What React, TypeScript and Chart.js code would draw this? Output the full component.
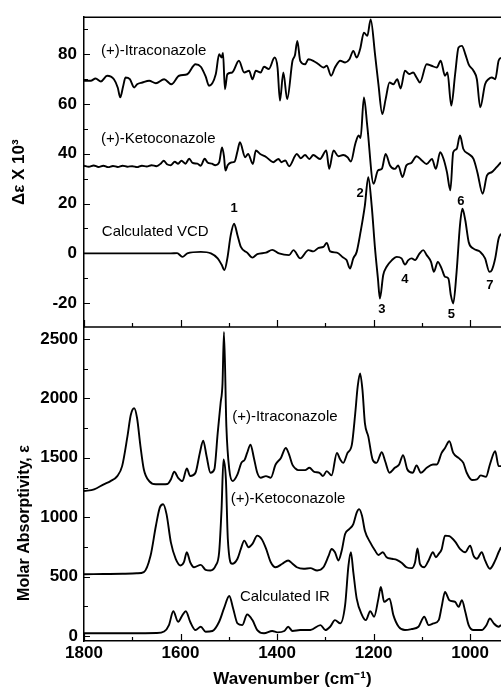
import React, { useEffect, useRef } from 'react';
import { Chart, registerables } from 'chart.js';

Chart.register(...registerables);

// ---------- axis ranges and tick labels ----------
const X_MIN = 936;
const X_MAX = 1800;
const VCD_MIN = -29.6;
const VCD_MAX = 94.8;
const IR_MIN = -42;
const IR_MAX = 2600;

const xTickValues = [1800, 1600, 1400, 1200, 1000];
const vcdTickValues = [-20, 0, 20, 40, 60, 80];
const irTickValues = [0, 500, 1000, 1500, 2000, 2500];
const xMinorTicks = [1800, 1700, 1600, 1500, 1400, 1300, 1200, 1100, 1000];
const vcdMinorTicks = [-20, -10, 0, 10, 20, 30, 40, 50, 60, 70, 80, 90];
const irMinorTicks = [0, 250, 500, 750, 1000, 1250, 1500, 1750, 2000, 2250, 2500];

// ---------- VCD spectra (Δε × 10^3) ----------
const itraVcdWn = [1800, 1786, 1776, 1765, 1752, 1738, 1730, 1725, 1719, 1714, 1705, 1696, 1690, 1679, 1665, 1651, 1634, 1619, 1603, 1586, 1569, 1558, 1548, 1541, 1527, 1520, 1515, 1512, 1508, 1503, 1493, 1479, 1468, 1458, 1451, 1444, 1434, 1427, 1417, 1405, 1399, 1394, 1387, 1379, 1368, 1363, 1358, 1352, 1342, 1335, 1325, 1314, 1304, 1297, 1288, 1280, 1269, 1259, 1250, 1242, 1235, 1228, 1220, 1213, 1206, 1197, 1190, 1182, 1175, 1167, 1159, 1151, 1144, 1135, 1126, 1118, 1111, 1104, 1090, 1080, 1069, 1061, 1052, 1047, 1039, 1031, 1024, 1017, 1010, 1003, 993, 986, 979, 969, 962, 955, 948, 941, 936];
const itraVcdVal = [69.3, 69.3, 70.2, 69.0, 71.3, 69.9, 66.5, 62.6, 67.0, 70.6, 69.9, 66.6, 67.9, 68.6, 69.3, 68.3, 69.9, 67.9, 71.3, 71.9, 75.9, 74.9, 71.0, 67.3, 71.9, 79.9, 78.6, 80.5, 65.9, 71.9, 72.6, 77.3, 72.6, 73.3, 69.9, 73.3, 72.6, 74.9, 74.0, 78.6, 74.6, 61.3, 72.6, 61.9, 77.3, 79.5, 85.3, 77.3, 75.9, 77.9, 77.3, 75.9, 74.6, 75.3, 71.3, 74.6, 77.3, 76.6, 77.9, 81.3, 78.6, 81.9, 88.6, 87.3, 93.9, 79.9, 67.9, 55.9, 61.9, 68.6, 67.9, 69.9, 66.2, 73.3, 72.0, 72.6, 70.6, 68.6, 75.9, 75.3, 74.6, 77.3, 71.3, 72.6, 59.3, 72.0, 82.6, 83.3, 80.0, 75.9, 73.3, 69.9, 58.6, 67.9, 69.9, 70.6, 69.9, 77.3, 78.6];

const ketoVcdWn = [1800, 1790, 1780, 1770, 1760, 1750, 1740, 1730, 1720, 1710, 1700, 1690, 1680, 1670, 1660, 1650, 1640, 1635, 1628, 1620, 1612, 1605, 1598, 1590, 1582, 1575, 1565, 1558, 1550, 1544, 1535, 1528, 1520, 1514, 1510, 1507, 1502, 1495, 1488, 1482, 1477, 1466, 1460, 1450, 1444, 1435, 1422, 1408, 1397, 1391, 1383, 1375, 1359, 1351, 1342, 1333, 1325, 1311, 1298, 1292, 1283, 1273, 1263, 1254, 1247, 1238, 1231, 1227, 1220, 1213, 1200, 1191, 1183, 1175, 1166, 1156, 1149, 1140, 1132, 1122, 1111, 1100, 1090, 1079, 1071, 1062, 1055, 1048, 1041, 1035, 1028, 1021, 1014, 1003, 993, 985, 974, 965, 955, 945, 936];
const ketoVcdVal = [35.2, 34.8, 35.3, 34.7, 35.2, 34.6, 35.1, 34.7, 35.2, 34.8, 35.0, 34.6, 35.2, 34.9, 35.4, 35.0, 36.2, 37.2, 35.8, 35.4, 36.8, 36.0, 37.2, 36.0, 38.0, 36.3, 36.0, 35.2, 38.0, 36.5, 36.0, 35.4, 36.5, 42.5, 39.0, 33.2, 35.5, 36.5, 36.8, 41.0, 44.6, 38.6, 39.9, 35.9, 41.3, 39.9, 38.6, 36.6, 37.9, 36.6, 37.3, 35.0, 39.9, 38.2, 39.5, 37.9, 39.5, 37.9, 41.3, 33.9, 41.3, 39.0, 39.5, 38.6, 36.9, 43.9, 47.3, 46.3, 62.6, 51.0, 27.9, 33.3, 33.9, 39.9, 35.3, 33.9, 35.3, 30.6, 35.3, 36.3, 39.0, 37.3, 35.9, 37.9, 33.9, 40.6, 37.9, 32.6, 25.3, 40.6, 41.9, 47.3, 41.9, 39.9, 37.9, 32.6, 23.9, 31.3, 32.6, 34.6, 36.6];

const calcVcdWn = [1800, 1700, 1620, 1607, 1596, 1586, 1558, 1537, 1523, 1515, 1509, 1503, 1496, 1489, 1482, 1475, 1462, 1451, 1441, 1423, 1410, 1396, 1375, 1366, 1352, 1335, 1325, 1314, 1304, 1297, 1290, 1276, 1263, 1256, 1249, 1242, 1235, 1227, 1218, 1211, 1204, 1197, 1191, 1187, 1180, 1173, 1162, 1152, 1142, 1135, 1128, 1121, 1114, 1105, 1097, 1090, 1081, 1075, 1067, 1059, 1052, 1045, 1040, 1035, 1028, 1021, 1016, 1010, 1003, 993, 979, 969, 960, 955, 948, 941, 936];
const calcVcdVal = [0, 0, 0, 0.1, -1.4, 0, 0.6, 0, -2, -4.5, -6.7, -2, 7.3, 11.9, 7.3, 2.6, 0.3, -1.7, -0.3, 0.3, 1.4, 0, -0.7, 1.3, -2, 1.3, 0.8, 2.2, 2.6, 4.2, 0.8, 0.3, -1.7, -2.7, -6.1, -2, 0.6, 8.6, 19.3, 30.6, 19.3, 1.9, -10.1, -18.1, -8.7, -5.4, -2.7, -1.4, -2, -4.5, -2.7, -2, -2.7, -0.1, 1.3, -0.7, -3.4, -7.4, -3.4, -6.1, -9.4, -10.1, -16.7, -20.1, -7.4, 11.3, 17.9, 13.3, 4.6, 1.9, 0.6, -2, -7.4, -6.7, -2, 5.9, 7.9];

// ---------- IR spectra (molar absorptivity) ----------
const itraIrWn = [1800, 1779, 1759, 1745, 1731, 1721, 1710, 1703, 1696, 1690, 1683, 1676, 1665, 1651, 1627, 1620, 1613, 1605, 1596, 1587, 1580, 1569, 1560, 1553, 1546, 1538, 1530, 1523, 1517, 1513, 1510, 1505, 1499, 1492, 1482, 1474, 1467, 1462, 1455, 1448, 1441, 1434, 1423, 1413, 1403, 1392, 1382, 1375, 1368, 1362, 1356, 1342, 1333, 1323, 1312, 1305, 1297, 1287, 1276, 1269, 1263, 1254, 1245, 1238, 1233, 1228, 1223, 1218, 1211, 1202, 1194, 1183, 1176, 1167, 1156, 1147, 1139, 1130, 1119, 1111, 1102, 1090, 1077, 1069, 1059, 1052, 1043, 1035, 1024, 1014, 1007, 996, 986, 978, 967, 959, 948, 941, 936];
const itraIrVal = [1220, 1235, 1277, 1304, 1346, 1430, 1680, 1862, 1917, 1833, 1597, 1402, 1304, 1277, 1280, 1318, 1382, 1332, 1304, 1410, 1346, 1374, 1541, 1644, 1513, 1374, 1402, 1708, 1959, 2126, 2560, 1764, 1402, 1304, 1360, 1457, 1485, 1541, 1611, 1499, 1374, 1332, 1346, 1332, 1444, 1499, 1583, 1527, 1440, 1410, 1396, 1396, 1416, 1382, 1374, 1346, 1388, 1352, 1541, 1485, 1457, 1541, 1611, 1875, 2098, 2210, 2070, 1792, 1680, 1485, 1457, 1547, 1471, 1374, 1416, 1444, 1522, 1402, 1374, 1436, 1374, 1416, 1444, 1444, 1541, 1583, 1639, 1541, 1499, 1457, 1374, 1313, 1318, 1352, 1340, 1444, 1555, 1430, 1430];

const ketoIrWn = [1800, 1760, 1720, 1690, 1676, 1662, 1651, 1643, 1636, 1629, 1620, 1610, 1600, 1593, 1587, 1580, 1572, 1558, 1548, 1538, 1527, 1520, 1515, 1511, 1506, 1502, 1493, 1482, 1475, 1468, 1459, 1451, 1441, 1432, 1423, 1413, 1403, 1389, 1377, 1368, 1359, 1345, 1331, 1317, 1304, 1293, 1287, 1280, 1273, 1266, 1259, 1250, 1242, 1235, 1230, 1224, 1218, 1207, 1197, 1190, 1181, 1173, 1162, 1152, 1142, 1132, 1121, 1114, 1109, 1104, 1095, 1086, 1077, 1071, 1065, 1059, 1052, 1043, 1031, 1021, 1010, 1000, 993, 986, 976, 969, 959, 948, 941, 936];
const ketoIrVal = [520, 522, 524, 528, 538, 677, 928, 1081, 1109, 1026, 788, 650, 594, 621, 705, 621, 579, 599, 557, 552, 594, 705, 1068, 1486, 1319, 817, 608, 650, 733, 803, 747, 775, 845, 817, 738, 621, 579, 608, 636, 608, 579, 566, 571, 552, 579, 677, 733, 705, 636, 719, 859, 901, 942, 1039, 1068, 1012, 886, 788, 719, 682, 705, 663, 650, 641, 617, 579, 571, 621, 738, 608, 579, 636, 705, 663, 691, 729, 845, 840, 794, 733, 705, 761, 677, 650, 705, 636, 566, 636, 705, 747];

const calcIrWn = [1800, 1700, 1650, 1634, 1624, 1615, 1605, 1596, 1589, 1580, 1569, 1558, 1548, 1534, 1520, 1510, 1499, 1491, 1482, 1472, 1462, 1451, 1441, 1427, 1410, 1399, 1385, 1377, 1368, 1352, 1331, 1310, 1300, 1290, 1280, 1269, 1259, 1252, 1247, 1242, 1235, 1224, 1216, 1207, 1199, 1190, 1185, 1178, 1167, 1159, 1148, 1135, 1121, 1107, 1095, 1086, 1076, 1065, 1059, 1052, 1043, 1031, 1024, 1017, 1010, 1003, 993, 976, 966, 959, 951, 941, 936];
const calcIrVal = [23, 23, 25, 38, 92, 209, 120, 176, 209, 120, 50, 78, 36, 42, 120, 232, 337, 232, 106, 92, 181, 134, 50, 23, 42, 31, 42, 78, 42, 50, 50, 92, 50, 78, 134, 106, 259, 594, 705, 538, 315, 176, 134, 209, 162, 315, 412, 287, 315, 176, 78, 50, 59, 78, 162, 92, 106, 134, 245, 370, 301, 287, 245, 301, 204, 92, 50, 50, 92, 148, 106, 78, 92];

// ---------- annotations (text at data coordinates) ----------
const vcdLabelText = ['(+)-Itraconazole', '(+)-Ketoconazole', 'Calculated VCD'];
const vcdLabelWn = [1765, 1765, 1763];
const vcdLabelVal = [81.3, 46.1, 8.7];
const irLabelText = ['(+)-Itraconazole', '(+)-Ketoconazole', 'Calculated IR'];
const irLabelWn = [1493, 1496, 1477];
const irLabelVal = [1848, 1151, 329];
const bandText = ['1', '2', '3', '4', '5', '6', '7'];
const bandWn = [1489, 1228, 1183, 1135, 1039, 1019, 959];
const bandVal = [18.2, 23.9, -22.3, -10.4, -24.7, 20.9, -12.8];

const FONT = "'Liberation Sans', Arial, Helvetica, sans-serif";

function pairs(wn: number[], val: number[]) {
  return wn.map((w, i) => ({ x: w, y: val[i] }));
}

const decorPlugin = {
  id: 'decor',
  afterDraw(chart: any) {
    const { ctx, chartArea, scales } = chart;
    const x = scales.x;
    const yV = scales.yVcd;
    const yI = scales.yIr;
    ctx.save();
    ctx.strokeStyle = '#000';
    ctx.lineWidth = 1.5;
    ctx.beginPath();
    ctx.moveTo(chartArea.left, yV.top);
    ctx.lineTo(chartArea.right, yV.top);
    ctx.moveTo(chartArea.left, yV.bottom);
    ctx.lineTo(chartArea.right, yV.bottom);
    ctx.stroke();

    ctx.lineWidth = 1.2;
    ctx.beginPath();
    for (const w of xMinorTicks) {
      const px = Math.round(x.getPixelForValue(w)) + 0.5;
      const len = xTickValues.includes(w) ? 7 : 4;
      ctx.moveTo(px, yV.bottom);
      ctx.lineTo(px, yV.bottom - len);
      ctx.moveTo(px, yI.bottom);
      ctx.lineTo(px, yI.bottom - len);
    }
    for (const v of vcdMinorTicks) {
      const py = Math.round(yV.getPixelForValue(v)) + 0.5;
      const len = vcdTickValues.includes(v) ? 6 : 4;
      ctx.moveTo(chartArea.left, py);
      ctx.lineTo(chartArea.left + len, py);
    }
    for (const v of irMinorTicks) {
      const py = Math.round(yI.getPixelForValue(v)) + 0.5;
      const len = irTickValues.includes(v) ? 6 : 4;
      ctx.moveTo(chartArea.left, py);
      ctx.lineTo(chartArea.left + len, py);
    }
    ctx.stroke();

    ctx.fillStyle = '#000';
    ctx.textBaseline = 'middle';
    ctx.textAlign = 'left';
    ctx.font = `15px ${FONT}`;
    vcdLabelText.forEach((t, i) => {
      ctx.fillText(t, x.getPixelForValue(vcdLabelWn[i]), yV.getPixelForValue(vcdLabelVal[i]));
    });
    irLabelText.forEach((t, i) => {
      ctx.fillText(t, x.getPixelForValue(irLabelWn[i]), yI.getPixelForValue(irLabelVal[i]));
    });
    ctx.textAlign = 'center';
    ctx.font = `bold 13px ${FONT}`;
    bandText.forEach((t, i) => {
      ctx.fillText(t, x.getPixelForValue(bandWn[i]), yV.getPixelForValue(bandVal[i]));
    });

    // rotated y-axis titles
    ctx.save();
    ctx.font = `bold 17px ${FONT}`;
    ctx.translate(19, (yV.top + yV.bottom) / 2);
    ctx.rotate(-Math.PI / 2);
    ctx.fillText('Δε X 10³', 0, 0);
    ctx.restore();
    ctx.save();
    ctx.font = `bold 16px ${FONT}`;
    ctx.translate(25, (yI.top + yI.bottom) / 2 + 39);
    ctx.rotate(-Math.PI / 2);
    ctx.fillText('Molar Absorptivity, ε', 0, 0);
    ctx.restore();
    ctx.restore();
  },
};

function setTicks(values: number[]) {
  return (scale: any) => {
    scale.ticks = values.map((v) => ({ value: v }));
  };
}

const tickFont = { family: FONT, size: 17, weight: 'bold' as const };

export default function App() {
  const canvasRef = useRef<HTMLCanvasElement | null>(null);

  useEffect(() => {
    const canvas = canvasRef.current;
    if (!canvas) return;
    const lineStyle = {
      borderColor: '#000',
      borderWidth: 1.9,
      pointRadius: 0,
      fill: false,
      cubicInterpolationMode: 'monotone' as const,
    };
    const chart = new Chart(canvas, {
      type: 'line',
      data: {
        datasets: [
          { ...lineStyle, label: '(+)-Itraconazole VCD', data: pairs(itraVcdWn, itraVcdVal), yAxisID: 'yVcd' },
          { ...lineStyle, label: '(+)-Ketoconazole VCD', data: pairs(ketoVcdWn, ketoVcdVal), yAxisID: 'yVcd' },
          { ...lineStyle, label: 'Calculated VCD', data: pairs(calcVcdWn, calcVcdVal), yAxisID: 'yVcd' },
          { ...lineStyle, label: '(+)-Itraconazole IR', data: pairs(itraIrWn, itraIrVal), yAxisID: 'yIr' },
          { ...lineStyle, label: '(+)-Ketoconazole IR', data: pairs(ketoIrWn, ketoIrVal), yAxisID: 'yIr' },
          { ...lineStyle, label: 'Calculated IR', data: pairs(calcIrWn, calcIrVal), yAxisID: 'yIr' },
        ],
      },
      options: {
        responsive: false,
        animation: false,
        devicePixelRatio: 1,
        layout: { padding: { top: 13, right: 0, bottom: 0, left: 0 } },
        plugins: { legend: { display: false }, tooltip: { enabled: false } },
        events: [],
        scales: {
          x: {
            type: 'linear',
            position: 'bottom',
            min: X_MIN,
            max: X_MAX,
            reverse: true,
            afterBuildTicks: setTicks(xTickValues),
            afterFit: (s: any) => { s.height = 51; },
            grid: { display: false, drawTicks: false },
            border: { display: true, color: '#000', width: 1.5 },
            ticks: { autoSkip: false, maxRotation: 0, padding: 2, color: '#000', font: tickFont, callback: (v: any) => String(v) },
            title: { display: true, text: 'Wavenumber (cm⁻¹)', color: '#000', font: tickFont, padding: { top: 0, bottom: 2 } },
          },
          yIr: {
            type: 'linear',
            position: 'left',
            stack: 'panels',
            stackWeight: 316,
            min: IR_MIN,
            max: IR_MAX,
            afterBuildTicks: setTicks(irTickValues),
            afterFit: (s: any) => { s.width = 84; },
            grid: { display: false, drawTicks: false },
            border: { display: true, color: '#000', width: 1.5 },
            ticks: { autoSkip: false, padding: 6, color: '#000', font: tickFont, callback: (v: any) => String(v) },
          },
          yVcd: {
            type: 'linear',
            position: 'left',
            stack: 'panels',
            stackWeight: 312,
            min: VCD_MIN,
            max: VCD_MAX,
            afterBuildTicks: setTicks(vcdTickValues),
            afterFit: (s: any) => { s.width = 84; },
            grid: { display: false, drawTicks: false },
            border: { display: true, color: '#000', width: 1.5 },
            ticks: { autoSkip: false, padding: 7, color: '#000', font: tickFont, callback: (v: any) => String(v) },
          },
        },
      } as any,
      plugins: [decorPlugin],
    });
    return () => chart.destroy();
  }, []);

  return (
    <div style={{ position: 'absolute', left: 0, top: 0, width: 501, height: 692, background: '#fff' }}>
      <canvas ref={canvasRef} width={501} height={692} style={{ display: 'block', width: 501, height: 692 }} />
    </div>
  );
}
